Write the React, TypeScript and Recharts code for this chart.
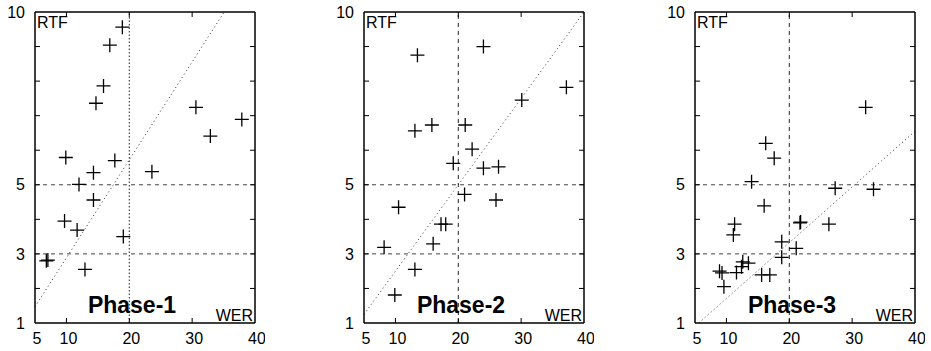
import { ReferenceLine, Scatter, ScatterChart, XAxis, YAxis } from "recharts"

const xTicks = [5, 10, 20, 30, 40]
const yTicks = [1, 2, 3, 4, 5, 6, 7, 8, 9, 10]
const yLabels = [1, 3, 5, 10]

const phase1Wer = [18.9, 16.9, 15.9, 14.7, 30.6, 37.9, 32.9, 9.9, 17.7, 14.3, 23.6, 12.0, 14.3, 9.7, 11.7, 19.05, 6.8, 7.05, 12.95]
const phase1Rtf = [9.56, 9.04, 7.86, 7.36, 7.24, 6.89, 6.41, 5.79, 5.7, 5.35, 5.38, 5.01, 4.56, 3.95, 3.69, 3.5, 2.8, 2.82, 2.55]

const phase2Wer = [24.0, 13.5, 37.2, 30.1, 13.1, 15.8, 21.1, 22.2, 19.2, 24.0, 26.4, 21.0, 26.0, 10.5, 17.25, 18.0, 16.0, 8.2, 13.1, 9.9]
const phase2Rtf = [9.0, 8.75, 7.82, 7.45, 6.56, 6.73, 6.73, 6.03, 5.62, 5.48, 5.52, 4.72, 4.56, 4.35, 3.86, 3.86, 3.29, 3.19, 2.55, 1.81]

const phase3Wer = [32.15, 16.25, 17.6, 14.0, 27.3, 33.4, 16.0, 11.3, 11.1, 21.7, 21.8, 26.3, 18.8, 21.1, 18.8, 12.6, 13.5, 12.4, 8.9, 9.3, 11.6, 15.6, 16.9, 9.6]
const phase3Rtf = [7.24, 6.2, 5.77, 5.09, 4.9, 4.87, 4.39, 3.86, 3.55, 3.9, 3.92, 3.86, 3.35, 3.16, 2.9, 2.77, 2.73, 2.63, 2.5, 2.45, 2.46, 2.39, 2.39, 2.05]

const phaseNames = ["Phase-1", "Phase-2", "Phase-3"]

// dotted diagonal per panel, end points
const diagonals = [
  [{ x: 5, y: 1.47 }, { x: 35.1, y: 10 }],
  [{ x: 5, y: 1.25 }, { x: 40, y: 10 }],
  [{ x: 5.6, y: 1 }, { x: 40, y: 6.55 }],
]

const werLineDash = ["1.5 2", "4 4", "4 4"]
const panelLefts = [0, 329, 660]

const PLOT_W = 220
const AXIS_W = 35
const TOP = 12
const BOTTOM = 323
const GAP = 10
const TICK = 5

const renderCross = (props: any) => {
  const { cx, cy } = props
  return <path d={`M${cx - 7},${cy}h14M${cx},${cy - 7}v14`} stroke="#000" strokeWidth={1.3} fill="none" />
}

// gnuplot style: inward tick marks on both sides, labels only on some
const YTick = (props: any) => {
  const { x, y, payload } = props
  const v = payload.value
  const inner = v !== 1 && v !== 10
  return (
    <g>
      {inner && (
        <path d={`M${AXIS_W},${y}h${TICK}M${AXIS_W + PLOT_W},${y}h${-TICK}`} stroke="#000" strokeWidth={1} fill="none" />
      )}
      {yLabels.includes(v) && (
        <text x={x} y={y} dy="0.355em" textAnchor="end" fontSize={16} fill="#000">
          {v}
        </text>
      )}
    </g>
  )
}

const XTick = (props: any) => {
  const { x, y, payload } = props
  const v = payload.value
  const inner = v !== 5 && v !== 40
  return (
    <g>
      {inner && <path d={`M${x},${BOTTOM}v${-TICK}M${x},${TOP}v${TICK}`} stroke="#000" strokeWidth={1} fill="none" />}
      <text x={x + 2} y={y} dy="0.71em" textAnchor="middle" fontSize={16} fill="#000">
        {v}
      </text>
    </g>
  )
}

function Panel({ wer, rtf, idx }: { wer: number[]; rtf: number[]; idx: number }) {
  const data = wer.map((x, i) => ({ x, y: rtf[i] }))
  const frame = { stroke: "#000", strokeWidth: 1.5 }
  return (
    <div style={{ position: "absolute", left: panelLefts[idx], top: 0 }}>
      <ScatterChart width={AXIS_W + PLOT_W + 10} height={351} margin={{ top: TOP, right: 10, bottom: 0, left: 0 }}>
        <XAxis
          xAxisId="m"
          type="number"
          dataKey="x"
          domain={[5, 40]}
          ticks={xTicks}
          interval={0}
          allowDataOverflow
          height={351 - BOTTOM}
          tickSize={0}
          tickMargin={GAP}
          tickLine={false}
          axisLine={frame}
          tick={XTick}
        />
        <XAxis xAxisId="t" orientation="top" type="number" domain={[5, 40]} allowDataOverflow mirror tick={false} tickLine={false} axisLine={frame} />
        <YAxis
          yAxisId="m"
          type="number"
          dataKey="y"
          domain={[1, 10]}
          ticks={yTicks}
          interval={0}
          allowDataOverflow
          width={AXIS_W}
          tickSize={0}
          tickMargin={GAP}
          tickLine={false}
          axisLine={frame}
          tick={YTick}
        />
        <YAxis yAxisId="r" orientation="right" type="number" domain={[1, 10]} allowDataOverflow mirror tick={false} tickLine={false} axisLine={frame} />

        <ReferenceLine xAxisId="m" yAxisId="m" y={5} stroke="#444" strokeDasharray="4 4" />
        <ReferenceLine xAxisId="m" yAxisId="m" y={3} stroke="#444" strokeDasharray="4 4" />
        <ReferenceLine xAxisId="m" yAxisId="m" x={20} stroke="#222" strokeDasharray={werLineDash[idx]} />
        <ReferenceLine xAxisId="m" yAxisId="m" segment={diagonals[idx]} stroke="#333" strokeDasharray="1 3" />

        <Scatter xAxisId="m" yAxisId="m" data={data} shape={renderCross} isAnimationActive={false} />
      </ScatterChart>
    </div>
  )
}

export default function App() {
  return (
    <div
      style={{
        position: "absolute",
        left: 0,
        top: 0,
        width: 931,
        height: 351,
        background: "#fff",
        fontFamily: "'Liberation Sans', Arial, Helvetica, sans-serif",
      }}
    >
      <Panel wer={phase1Wer} rtf={phase1Rtf} idx={0} />
      <Panel wer={phase2Wer} rtf={phase2Rtf} idx={1} />
      <Panel wer={phase3Wer} rtf={phase3Rtf} idx={2} />
      <svg width={931} height={351} style={{ position: "absolute", left: 0, top: 0, pointerEvents: "none" }}>
        {phaseNames.map((name, i) => {
          const left = panelLefts[i] + AXIS_W
          return (
            <g key={name}>
              <text x={left + 2} y={28} fontSize={16} fill="#000">
                RTF
              </text>
              <text x={left + PLOT_W - 2} y={321} fontSize={16} fill="#000" textAnchor="end">
                WER
              </text>
              <text x={left + 97} y={313} fontSize={23} fontWeight="bold" fill="#000" textAnchor="middle">
                {name}
              </text>
            </g>
          )
        })}
      </svg>
    </div>
  )
}
